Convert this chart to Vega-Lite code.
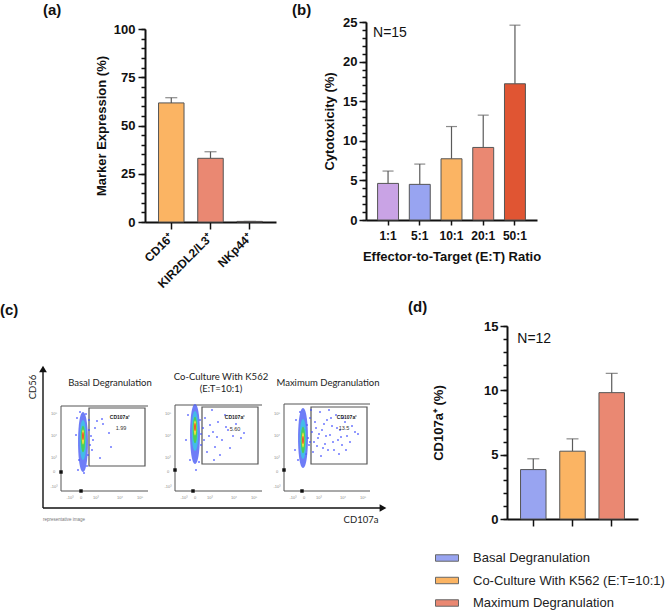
{
  "$schema": "https://vega.github.io/schema/vega-lite/v6.json",
  "padding": {"left": 0, "top": 3, "right": 0, "bottom": 0},
  "background": "white",
  "config": {
    "view": {"stroke": null},
    "font": "Liberation Sans",
    "title": {"fontSize": 15, "fontWeight": "bold", "anchor": "start", "frame": "group", "color": "#111", "font": "Liberation Sans"},
    "axis": {"grid": false, "labelFont": "Liberation Sans", "titleFont": "Liberation Sans", "labelFontSize": 13, "labelFontWeight": "bold", "titleFontSize": 13, "titleFontWeight": "bold", "labelColor": "#111", "titleColor": "#111", "domainColor": "#111", "domainWidth": 2, "tickColor": "#111", "tickWidth": 1.5}
  },
  "datasets": {
    "a": [
      {"marker": "CD16⁺", "mean": 61.7, "upper": 64.4},
      {"marker": "KIR2DL2/L3⁺", "mean": 33.0, "upper": 36.4},
      {"marker": "NKp44⁺", "mean": 0.3, "upper": 0.3}
    ],
    "b": [
      {"ratio": "1:1", "mean": 4.62, "upper": 6.18},
      {"ratio": "5:1", "mean": 4.5, "upper": 7.06},
      {"ratio": "10:1", "mean": 7.73, "upper": 11.8},
      {"ratio": "20:1", "mean": 9.16, "upper": 13.24},
      {"ratio": "50:1", "mean": 17.2, "upper": 24.6}
    ],
    "d": [
      {"condition": "Basal Degranulation", "mean": 3.84, "upper": 4.68},
      {"condition": "Co-Culture With K562 (E:T=10:1)", "mean": 5.27, "upper": 6.23},
      {"condition": "Maximum Degranulation", "mean": 9.82, "upper": 11.32}
    ],
    "c_arrows": [
      {"x": 43, "y": 22, "x2": 43, "y2": 160},
      {"x": 43, "y": 22, "x2": 381, "y2": 22}
    ],
    "c_heads": [
      {"x": 43, "y": 161, "dir": "up"},
      {"x": 383, "y": 22, "dir": "right"}
    ],
    "c_frames": [
      {"x": 61, "y": 124, "x2": 148, "y2": 124},
      {"x": 61, "y": 124, "x2": 61, "y2": 39},
      {"x": 61, "y": 39, "x2": 148, "y2": 39},
      {"x": 175, "y": 125, "x2": 262, "y2": 125},
      {"x": 175, "y": 125, "x2": 175, "y2": 39},
      {"x": 175, "y": 39, "x2": 262, "y2": 39},
      {"x": 284, "y": 126, "x2": 370, "y2": 126},
      {"x": 284, "y": 126, "x2": 284, "y2": 39},
      {"x": 284, "y": 39, "x2": 370, "y2": 39}
    ],
    "c_gates": [
      {"x": 89, "x2": 145, "y": 64, "y2": 122},
      {"x": 202, "x2": 258, "y": 66, "y2": 123},
      {"x": 311, "x2": 367, "y": 66, "y2": 123}
    ],
    "c_clouds": [
      {"plot": 1, "level": "low", "x": 83, "y": 88},
      {"plot": 1, "level": "lowmid", "x": 83, "y": 90},
      {"plot": 1, "level": "mid", "x": 83, "y": 91},
      {"plot": 1, "level": "high", "x": 83, "y": 93},
      {"plot": 1, "level": "peak", "x": 83, "y": 94},
      {"plot": 2, "level": "low", "x": 195, "y": 96},
      {"plot": 2, "level": "lowmid", "x": 195, "y": 99},
      {"plot": 2, "level": "mid", "x": 195, "y": 100},
      {"plot": 2, "level": "high", "x": 195, "y": 102},
      {"plot": 2, "level": "peak", "x": 195, "y": 103},
      {"plot": 3, "level": "low", "x": 303, "y": 92},
      {"plot": 3, "level": "lowmid", "x": 303, "y": 91},
      {"plot": 3, "level": "mid", "x": 303, "y": 90},
      {"plot": 3, "level": "high", "x": 303, "y": 90},
      {"plot": 3, "level": "peak", "x": 303, "y": 90}
    ],
    "c_events": [
      {"plot": 1, "x": 97, "y": 109}, {"plot": 1, "x": 102, "y": 111}, {"plot": 1, "x": 103, "y": 106}, {"plot": 1, "x": 109, "y": 97},
      {"plot": 1, "x": 111, "y": 83}, {"plot": 1, "x": 100, "y": 72}, {"plot": 1, "x": 93, "y": 90}, {"plot": 1, "x": 89, "y": 100},
      {"plot": 1, "x": 90, "y": 85}, {"plot": 1, "x": 88, "y": 75}, {"plot": 1, "x": 77, "y": 112}, {"plot": 1, "x": 78, "y": 60},
      {"plot": 1, "x": 86, "y": 116}, {"plot": 1, "x": 91, "y": 94}, {"plot": 1, "x": 95, "y": 102}, {"plot": 1, "x": 92, "y": 80},
      {"plot": 1, "x": 84, "y": 57}, {"plot": 1, "x": 80, "y": 118}, {"plot": 1, "x": 76, "y": 95}, {"plot": 1, "x": 89, "y": 110},
      {"plot": 1, "x": 79, "y": 70}, {"plot": 1, "x": 87, "y": 64},
      {"plot": 2, "x": 205, "y": 112}, {"plot": 2, "x": 210, "y": 105}, {"plot": 2, "x": 213, "y": 98}, {"plot": 2, "x": 218, "y": 108},
      {"plot": 2, "x": 222, "y": 90}, {"plot": 2, "x": 228, "y": 100}, {"plot": 2, "x": 233, "y": 94}, {"plot": 2, "x": 236, "y": 106},
      {"plot": 2, "x": 215, "y": 83}, {"plot": 2, "x": 207, "y": 78}, {"plot": 2, "x": 220, "y": 75}, {"plot": 2, "x": 241, "y": 92},
      {"plot": 2, "x": 212, "y": 120}, {"plot": 2, "x": 204, "y": 90}, {"plot": 2, "x": 199, "y": 68}, {"plot": 2, "x": 196, "y": 60},
      {"plot": 2, "x": 225, "y": 115}, {"plot": 2, "x": 209, "y": 94}, {"plot": 2, "x": 203, "y": 102}, {"plot": 2, "x": 217, "y": 93},
      {"plot": 2, "x": 230, "y": 82}, {"plot": 2, "x": 201, "y": 85}, {"plot": 2, "x": 244, "y": 97}, {"plot": 2, "x": 214, "y": 70},
      {"plot": 2, "x": 226, "y": 103}, {"plot": 2, "x": 188, "y": 115}, {"plot": 2, "x": 200, "y": 110}, {"plot": 2, "x": 190, "y": 70},
      {"plot": 2, "x": 201, "y": 96}, {"plot": 2, "x": 186, "y": 90},
      {"plot": 3, "x": 307, "y": 105}, {"plot": 3, "x": 310, "y": 112}, {"plot": 3, "x": 312, "y": 98}, {"plot": 3, "x": 315, "y": 108},
      {"plot": 3, "x": 318, "y": 92}, {"plot": 3, "x": 320, "y": 118}, {"plot": 3, "x": 322, "y": 100}, {"plot": 3, "x": 325, "y": 86},
      {"plot": 3, "x": 327, "y": 110}, {"plot": 3, "x": 330, "y": 95}, {"plot": 3, "x": 332, "y": 104}, {"plot": 3, "x": 334, "y": 80},
      {"plot": 3, "x": 336, "y": 115}, {"plot": 3, "x": 338, "y": 90}, {"plot": 3, "x": 340, "y": 100}, {"plot": 3, "x": 342, "y": 85},
      {"plot": 3, "x": 345, "y": 108}, {"plot": 3, "x": 347, "y": 94}, {"plot": 3, "x": 350, "y": 88}, {"plot": 3, "x": 355, "y": 98},
      {"plot": 3, "x": 309, "y": 85}, {"plot": 3, "x": 313, "y": 78}, {"plot": 3, "x": 317, "y": 84}, {"plot": 3, "x": 321, "y": 74},
      {"plot": 3, "x": 326, "y": 94}, {"plot": 3, "x": 329, "y": 120}, {"plot": 3, "x": 333, "y": 88}, {"plot": 3, "x": 339, "y": 76},
      {"plot": 3, "x": 343, "y": 112}, {"plot": 3, "x": 308, "y": 92}, {"plot": 3, "x": 311, "y": 120}, {"plot": 3, "x": 316, "y": 102},
      {"plot": 3, "x": 324, "y": 106}, {"plot": 3, "x": 337, "y": 102}, {"plot": 3, "x": 346, "y": 80}, {"plot": 3, "x": 352, "y": 104},
      {"plot": 3, "x": 305, "y": 100}, {"plot": 3, "x": 306, "y": 76}, {"plot": 3, "x": 319, "y": 96}, {"plot": 3, "x": 328, "y": 80},
      {"plot": 3, "x": 331, "y": 112}, {"plot": 3, "x": 341, "y": 93}, {"plot": 3, "x": 358, "y": 96}, {"plot": 3, "x": 314, "y": 88},
      {"plot": 3, "x": 323, "y": 82}, {"plot": 3, "x": 296, "y": 110}, {"plot": 3, "x": 300, "y": 118}, {"plot": 3, "x": 295, "y": 80},
      {"plot": 3, "x": 298, "y": 70}, {"plot": 3, "x": 310, "y": 88}
    ],
    "c_pileups": [
      {"x": 61, "y": 58}, {"x": 81, "y": 39}, {"x": 175, "y": 60}, {"x": 193, "y": 39}, {"x": 284, "y": 60}, {"x": 302, "y": 39}
    ],
    "c_text": [
      {"role": "title", "label": "Basal Degranulation", "x": 110, "y": 147},
      {"role": "title", "label": "Co-Culture With K562", "x": 221, "y": 153},
      {"role": "title", "label": "(E:T=10:1)", "x": 221, "y": 141},
      {"role": "title", "label": "Maximum Degranulation", "x": 328, "y": 147},
      {"role": "gate", "label": "CD107a⁺", "x": 120, "y": 113},
      {"role": "gate", "label": "CD107a⁺", "x": 235, "y": 113},
      {"role": "gate", "label": "CD107a⁺", "x": 347, "y": 113},
      {"role": "value", "label": "1.99", "x": 121, "y": 102},
      {"role": "value", "label": "5.60", "x": 235, "y": 101},
      {"role": "value", "label": "13.5", "x": 344, "y": 102},
      {"role": "axis", "label": "CD107a", "x": 361, "y": 10},
      {"role": "axisv", "label": "CD56", "x": 33, "y": 143},
      {"role": "note", "label": "representative image", "x": 43, "y": 10},
      {"role": "tick", "label": "-10³", "x": 70, "y": 32}, {"role": "tick", "label": "0", "x": 81, "y": 32},
      {"role": "tick", "label": "10³", "x": 96, "y": 32}, {"role": "tick", "label": "10⁴", "x": 120, "y": 32},
      {"role": "tick", "label": "10⁵", "x": 140, "y": 32},
      {"role": "tick", "label": "-10³", "x": 184, "y": 32}, {"role": "tick", "label": "0", "x": 195, "y": 32},
      {"role": "tick", "label": "10³", "x": 210, "y": 32}, {"role": "tick", "label": "10⁴", "x": 234, "y": 32},
      {"role": "tick", "label": "10⁵", "x": 254, "y": 32},
      {"role": "tick", "label": "-10³", "x": 293, "y": 32}, {"role": "tick", "label": "0", "x": 304, "y": 32},
      {"role": "tick", "label": "10³", "x": 319, "y": 32}, {"role": "tick", "label": "10⁴", "x": 343, "y": 32},
      {"role": "tick", "label": "10⁵", "x": 363, "y": 32},
      {"role": "tick", "label": "10⁵", "x": 54, "y": 116}, {"role": "tick", "label": "10⁴", "x": 54, "y": 94},
      {"role": "tick", "label": "10³", "x": 54, "y": 72}, {"role": "tick", "label": "0", "x": 54, "y": 58},
      {"role": "tick", "label": "-10³", "x": 54, "y": 43},
      {"role": "tick", "label": "10⁵", "x": 168, "y": 116}, {"role": "tick", "label": "10⁴", "x": 168, "y": 94},
      {"role": "tick", "label": "10³", "x": 168, "y": 72}, {"role": "tick", "label": "0", "x": 168, "y": 58},
      {"role": "tick", "label": "-10³", "x": 168, "y": 43},
      {"role": "tick", "label": "10⁵", "x": 277, "y": 116}, {"role": "tick", "label": "10⁴", "x": 277, "y": 94},
      {"role": "tick", "label": "10³", "x": 277, "y": 72}, {"role": "tick", "label": "0", "x": 277, "y": 58},
      {"role": "tick", "label": "-10³", "x": 277, "y": 43}
    ]
  },
  "spacing": 10,
  "resolve": {"scale": {"color": "independent", "size": "independent", "shape": "independent"}},
  "vconcat": [
    {
      "spacing": 16,
      "resolve": {"scale": {"color": "independent", "size": "independent", "shape": "independent"}},
      "hconcat": [
        {
          "width": 131, "height": 200,
          "title": {"text": "(a)", "dx": -102, "offset": 4},
          "data": {"name": "a"},
          "resolve": {"axis": {"y": "independent"}},
          "layer": [
            {
              "mark": {"type": "rule", "color": "#5a5a5a", "strokeWidth": 1.2},
              "encoding": {
                "x": {"field": "marker", "type": "nominal", "sort": null, "scale": {"paddingInner": 0.35, "paddingOuter": 0.345}, "axis": {"title": null, "labelAngle": -45, "labelAlign": "right", "labelBaseline": "middle", "labelFontSize": 12, "tickSize": 7, "labelPadding": 6}},
                "y": {"field": "mean", "type": "quantitative", "scale": {"domain": [0, 100], "range": [200, 7]}, "axis": null},
                "y2": {"field": "upper"}
              }
            },
            {
              "mark": {"type": "tick", "color": "#5a5a5a", "thickness": 1.2, "size": 12},
              "encoding": {
                "x": {"field": "marker", "type": "nominal", "sort": null, "scale": {"paddingInner": 0.35, "paddingOuter": 0.345}, "axis": {"title": null, "labelAngle": -45, "labelAlign": "right", "labelBaseline": "middle", "labelFontSize": 12, "tickSize": 7, "labelPadding": 6}},
                "y": {"field": "upper", "type": "quantitative", "scale": {"domain": [0, 100], "range": [200, 7]}, "axis": {"orient": "left", "values": [0,5,10,15,20,25,30,35,40,45,50,55,60,65,70,75,80,85,90,95,100], "labels": false, "domain": false, "tickSize": 4, "title": null}}
              }
            },
            {
              "mark": {"type": "bar", "stroke": "#555", "strokeWidth": 1},
              "encoding": {
                "x": {"field": "marker", "type": "nominal", "sort": null, "scale": {"paddingInner": 0.35, "paddingOuter": 0.345}, "axis": {"title": null, "labelAngle": -45, "labelAlign": "right", "labelBaseline": "middle", "labelFontSize": 12, "tickSize": 7, "labelPadding": 6}},
                "y": {"field": "mean", "type": "quantitative", "scale": {"domain": [0, 100], "range": [200, 7]}, "axis": {"orient": "left", "values": [0, 25, 50, 75, 100], "tickSize": 7, "labelPadding": 3, "title": "Marker Expression (%)", "titlePadding": 5}},
                "color": {"field": "marker", "type": "nominal", "sort": null, "scale": {"domain": ["CD16⁺", "KIR2DL2/L3⁺", "NKp44⁺"], "range": ["#FBB463", "#EA8872", "#E05533"]}, "legend": null}
              }
            }
          ]
        },
        {
          "width": 171, "height": 198,
          "title": {"text": "(b)", "dx": -74, "offset": -2},
          "data": {"name": "b"},
          "resolve": {"axis": {"y": "independent"}},
          "layer": [
            {
              "mark": {"type": "rule", "color": "#5a5a5a", "strokeWidth": 1.2},
              "encoding": {
                "x": {"field": "ratio", "type": "nominal", "sort": null, "scale": {"paddingInner": 0.34, "paddingOuter": 0.365}, "axis": {"title": "Effector-to-Target (E:T) Ratio", "labelAngle": 0, "labelFontSize": 12, "tickSize": 5, "labelPadding": 5, "titlePadding": 9}},
                "y": {"field": "mean", "type": "quantitative", "scale": {"domain": [0, 25]}, "axis": null},
                "y2": {"field": "upper"}
              }
            },
            {
              "mark": {"type": "tick", "color": "#5a5a5a", "thickness": 1.2, "size": 11},
              "encoding": {
                "x": {"field": "ratio", "type": "nominal", "sort": null, "scale": {"paddingInner": 0.34, "paddingOuter": 0.365}, "axis": {"title": "Effector-to-Target (E:T) Ratio", "labelAngle": 0, "labelFontSize": 12, "tickSize": 5, "labelPadding": 5, "titlePadding": 9}},
                "y": {"field": "upper", "type": "quantitative", "scale": {"domain": [0, 25]}, "axis": {"orient": "left", "values": [0,1,2,3,4,5,6,7,8,9,10,11,12,13,14,15,16,17,18,19,20,21,22,23,24,25], "labels": false, "domain": false, "tickSize": 4, "title": null}}
              }
            },
            {
              "mark": {"type": "bar", "stroke": "#555", "strokeWidth": 1},
              "encoding": {
                "x": {"field": "ratio", "type": "nominal", "sort": null, "scale": {"paddingInner": 0.34, "paddingOuter": 0.365}, "axis": {"title": "Effector-to-Target (E:T) Ratio", "labelAngle": 0, "labelFontSize": 12, "tickSize": 5, "labelPadding": 5, "titlePadding": 9}},
                "y": {"field": "mean", "type": "quantitative", "scale": {"domain": [0, 25]}, "axis": {"orient": "left", "values": [0, 5, 10, 15, 20, 25], "tickSize": 7, "labelPadding": 2, "title": "Cytotoxicity (%)", "titlePadding": 6}},
                "color": {"field": "ratio", "type": "nominal", "sort": null, "scale": {"domain": ["1:1", "5:1", "10:1", "20:1", "50:1"], "range": ["#C9A3E5", "#98A4F1", "#FBB463", "#EA8872", "#E05533"]}, "legend": null}
              }
            },
            {
              "data": {"values": [{"label": "N=15"}]},
              "mark": {"type": "text", "align": "left", "baseline": "middle", "dx": -15, "fontSize": 14, "font": "Liberation Sans", "color": "#111"},
              "encoding": {
                "x": {"datum": "1:1", "type": "nominal", "scale": {"paddingInner": 0.34, "paddingOuter": 0.365}, "axis": {"title": "Effector-to-Target (E:T) Ratio", "labelAngle": 0, "labelFontSize": 12, "tickSize": 5, "labelPadding": 5, "titlePadding": 9}},
                "y": {"datum": 23.6, "type": "quantitative", "scale": {"domain": [0, 25]}, "axis": null},
                "text": {"field": "label"}
              }
            }
          ]
        }
      ]
    },
    {
      "spacing": 18,
      "resolve": {"scale": {"color": "independent", "size": "independent", "shape": "independent"}},
      "hconcat": [
        {
          "width": 245, "height": 204,
          "title": {"text": "(c)", "dx": -145, "offset": 8},
          "layer": [
            {
              "data": {"name": "c_frames"},
              "mark": {"type": "rule", "color": "#555", "strokeWidth": 1},
              "encoding": {
                "x": {"field": "x", "type": "quantitative", "scale": {"domain": [145, 390], "nice": false, "zero": false}, "axis": null},
                "y": {"field": "y", "type": "quantitative", "scale": {"domain": [0, 204], "nice": false}, "axis": null},
                "x2": {"field": "x2"}, "y2": {"field": "y2"}
              }
            },
            {
              "data": {"name": "c_gates"},
              "mark": {"type": "rect", "filled": false, "color": "#555", "strokeWidth": 1.2},
              "encoding": {
                "x": {"field": "x", "type": "quantitative", "scale": {"domain": [145, 390], "nice": false, "zero": false}, "axis": null},
                "y": {"field": "y", "type": "quantitative", "scale": {"domain": [0, 204], "nice": false}, "axis": null},
                "x2": {"field": "x2"}, "y2": {"field": "y2"}
              }
            },
            {
              "data": {"name": "c_events"},
              "mark": {"type": "square", "size": 3, "color": "#3848ff", "opacity": 0.85},
              "encoding": {
                "x": {"field": "x", "type": "quantitative", "scale": {"domain": [145, 390], "nice": false, "zero": false}, "axis": null},
                "y": {"field": "y", "type": "quantitative", "scale": {"domain": [0, 204], "nice": false}, "axis": null}
              }
            },
            {
              "data": {"name": "c_clouds"},
              "transform": [{"filter": "datum.level === 'low'"}],
              "mark": {"type": "point", "filled": true, "opacity": 0.8, "strokeWidth": 0, "size": 3600, "color": "#4a5cf5", "shape": "M0,-1C0.22,-1 0.22,1 0,1C-0.22,1 -0.22,-1 0,-1Z"},
              "encoding": {
                "x": {"field": "x", "type": "quantitative", "scale": {"domain": [145, 390], "nice": false, "zero": false}, "axis": null},
                "y": {"field": "y", "type": "quantitative", "scale": {"domain": [0, 204], "nice": false}, "axis": null}
              }
            },
            {
              "data": {"name": "c_clouds"},
              "transform": [{"filter": "datum.level === 'lowmid'"}],
              "mark": {"type": "point", "filled": true, "opacity": 0.85, "strokeWidth": 0, "size": 1600, "color": "#3cc6e6", "shape": "M0,-1C0.22,-1 0.22,1 0,1C-0.22,1 -0.22,-1 0,-1Z"},
              "encoding": {
                "x": {"field": "x", "type": "quantitative", "scale": {"domain": [145, 390], "nice": false, "zero": false}, "axis": null},
                "y": {"field": "y", "type": "quantitative", "scale": {"domain": [0, 204], "nice": false}, "axis": null}
              }
            },
            {
              "data": {"name": "c_clouds"},
              "transform": [{"filter": "datum.level === 'mid'"}],
              "mark": {"type": "point", "filled": true, "opacity": 0.9, "strokeWidth": 0, "size": 700, "color": "#4cd24c", "shape": "M0,-1C0.22,-1 0.22,1 0,1C-0.22,1 -0.22,-1 0,-1Z"},
              "encoding": {
                "x": {"field": "x", "type": "quantitative", "scale": {"domain": [145, 390], "nice": false, "zero": false}, "axis": null},
                "y": {"field": "y", "type": "quantitative", "scale": {"domain": [0, 204], "nice": false}, "axis": null}
              }
            },
            {
              "data": {"name": "c_clouds"},
              "transform": [{"filter": "datum.level === 'high'"}],
              "mark": {"type": "point", "filled": true, "opacity": 0.95, "strokeWidth": 0, "size": 225, "color": "#f2e03a", "shape": "M0,-1C0.22,-1 0.22,1 0,1C-0.22,1 -0.22,-1 0,-1Z"},
              "encoding": {
                "x": {"field": "x", "type": "quantitative", "scale": {"domain": [145, 390], "nice": false, "zero": false}, "axis": null},
                "y": {"field": "y", "type": "quantitative", "scale": {"domain": [0, 204], "nice": false}, "axis": null}
              }
            },
            {
              "data": {"name": "c_clouds"},
              "transform": [{"filter": "datum.level === 'peak'"}],
              "mark": {"type": "point", "filled": true, "opacity": 1, "strokeWidth": 0, "size": 64, "color": "#e8502a", "shape": "M0,-1C0.3,-1 0.3,1 0,1C-0.3,1 -0.3,-1 0,-1Z"},
              "encoding": {
                "x": {"field": "x", "type": "quantitative", "scale": {"domain": [145, 390], "nice": false, "zero": false}, "axis": null},
                "y": {"field": "y", "type": "quantitative", "scale": {"domain": [0, 204], "nice": false}, "axis": null}
              }
            },
            {
              "data": {"name": "c_pileups"},
              "mark": {"type": "square", "size": 12, "color": "#111", "opacity": 1},
              "encoding": {
                "x": {"field": "x", "type": "quantitative", "scale": {"domain": [145, 390], "nice": false, "zero": false}, "axis": null},
                "y": {"field": "y", "type": "quantitative", "scale": {"domain": [0, 204], "nice": false}, "axis": null}
              }
            },
            {
              "data": {"name": "c_arrows"},
              "mark": {"type": "rule", "color": "#111", "strokeWidth": 1.4},
              "encoding": {
                "x": {"field": "x", "type": "quantitative", "scale": {"domain": [145, 390], "nice": false, "zero": false}, "axis": null},
                "y": {"field": "y", "type": "quantitative", "scale": {"domain": [0, 204], "nice": false}, "axis": null},
                "x2": {"field": "x2"}, "y2": {"field": "y2"}
              }
            },
            {
              "data": {"name": "c_heads"},
              "mark": {"type": "point", "filled": true, "size": 60, "color": "#111", "opacity": 1},
              "encoding": {
                "x": {"field": "x", "type": "quantitative", "scale": {"domain": [145, 390], "nice": false, "zero": false}, "axis": null},
                "y": {"field": "y", "type": "quantitative", "scale": {"domain": [0, 204], "nice": false}, "axis": null},
                "shape": {"field": "dir", "type": "nominal", "scale": {"domain": ["up", "right"], "range": ["triangle-up", "triangle-right"]}, "legend": null}
              }
            },
            {
              "data": {"name": "c_text"},
              "transform": [{"filter": "datum.role === 'title' || datum.role === 'axis'"}],
              "mark": {"type": "text", "font": "Lato", "fontSize": 9.5, "color": "#222", "baseline": "middle"},
              "encoding": {
                "x": {"field": "x", "type": "quantitative", "scale": {"domain": [145, 390], "nice": false, "zero": false}, "axis": null},
                "y": {"field": "y", "type": "quantitative", "scale": {"domain": [0, 204], "nice": false}, "axis": null},
                "text": {"field": "label"}
              }
            },
            {
              "data": {"name": "c_text"},
              "transform": [{"filter": "datum.role === 'axisv'"}],
              "mark": {"type": "text", "font": "Lato", "fontSize": 9.5, "color": "#222", "baseline": "middle", "angle": 270},
              "encoding": {
                "x": {"field": "x", "type": "quantitative", "scale": {"domain": [145, 390], "nice": false, "zero": false}, "axis": null},
                "y": {"field": "y", "type": "quantitative", "scale": {"domain": [0, 204], "nice": false}, "axis": null},
                "text": {"field": "label"}
              }
            },
            {
              "data": {"name": "c_text"},
              "transform": [{"filter": "datum.role === 'gate'"}],
              "mark": {"type": "text", "font": "Liberation Sans", "fontSize": 5, "fontWeight": "bold", "color": "#222", "baseline": "middle"},
              "encoding": {
                "x": {"field": "x", "type": "quantitative", "scale": {"domain": [145, 390], "nice": false, "zero": false}, "axis": null},
                "y": {"field": "y", "type": "quantitative", "scale": {"domain": [0, 204], "nice": false}, "axis": null},
                "text": {"field": "label"}
              }
            },
            {
              "data": {"name": "c_text"},
              "transform": [{"filter": "datum.role === 'value'"}],
              "mark": {"type": "text", "font": "Liberation Sans", "fontSize": 5.5, "color": "#333", "baseline": "middle"},
              "encoding": {
                "x": {"field": "x", "type": "quantitative", "scale": {"domain": [145, 390], "nice": false, "zero": false}, "axis": null},
                "y": {"field": "y", "type": "quantitative", "scale": {"domain": [0, 204], "nice": false}, "axis": null},
                "text": {"field": "label"}
              }
            },
            {
              "data": {"name": "c_text"},
              "transform": [{"filter": "datum.role === 'tick'"}],
              "mark": {"type": "text", "font": "Liberation Sans", "fontSize": 4, "color": "#888", "baseline": "middle"},
              "encoding": {
                "x": {"field": "x", "type": "quantitative", "scale": {"domain": [145, 390], "nice": false, "zero": false}, "axis": null},
                "y": {"field": "y", "type": "quantitative", "scale": {"domain": [0, 204], "nice": false}, "axis": null},
                "text": {"field": "label"}
              }
            },
            {
              "data": {"name": "c_text"},
              "transform": [{"filter": "datum.role === 'note'"}],
              "mark": {"type": "text", "font": "Liberation Sans", "fontSize": 4.5, "color": "#777", "baseline": "middle", "align": "left"},
              "encoding": {
                "x": {"field": "x", "type": "quantitative", "scale": {"domain": [145, 390], "nice": false, "zero": false}, "axis": null},
                "y": {"field": "y", "type": "quantitative", "scale": {"domain": [0, 204], "nice": false}, "axis": null},
                "text": {"field": "label"}
              }
            }
          ]
        },
        {
          "width": 131, "height": 193,
          "title": {"text": "(d)", "dx": -99, "offset": 5},
          "data": {"name": "d"},
          "resolve": {"axis": {"y": "independent"}},
          "layer": [
            {
              "mark": {"type": "rule", "color": "#5a5a5a", "strokeWidth": 1.2},
              "encoding": {
                "x": {"field": "condition", "type": "nominal", "sort": null, "scale": {"paddingInner": 0.35, "paddingOuter": 0.345}, "axis": {"title": null, "labels": false, "tickSize": 7}},
                "y": {"field": "mean", "type": "quantitative", "scale": {"domain": [0, 15]}, "axis": null},
                "y2": {"field": "upper"}
              }
            },
            {
              "mark": {"type": "tick", "color": "#5a5a5a", "thickness": 1.2, "size": 12},
              "encoding": {
                "x": {"field": "condition", "type": "nominal", "sort": null, "scale": {"paddingInner": 0.35, "paddingOuter": 0.345}, "axis": {"title": null, "labels": false, "tickSize": 7}},
                "y": {"field": "upper", "type": "quantitative", "scale": {"domain": [0, 15]}, "axis": {"orient": "left", "values": [0,1,2,3,4,5,6,7,8,9,10,11,12,13,14,15], "labels": false, "domain": false, "tickSize": 4, "title": null}}
              }
            },
            {
              "mark": {"type": "bar", "stroke": "#555", "strokeWidth": 1},
              "encoding": {
                "x": {"field": "condition", "type": "nominal", "sort": null, "scale": {"paddingInner": 0.35, "paddingOuter": 0.345}, "axis": {"title": null, "labels": false, "tickSize": 7}},
                "y": {"field": "mean", "type": "quantitative", "scale": {"domain": [0, 15]}, "axis": {"orient": "left", "values": [0, 5, 10, 15], "tickSize": 7, "labelPadding": 2, "title": "CD107a⁺ (%)", "titlePadding": 38}},
                "color": {"field": "condition", "type": "nominal", "sort": null, "scale": {"domain": ["Basal Degranulation", "Co-Culture With K562 (E:T=10:1)", "Maximum Degranulation"], "range": ["#98A4F1", "#FBB463", "#EA8872"]}, "legend": {"orient": "none", "legendX": -72, "legendY": 220, "title": null, "padding": 0, "symbolType": "M-1,-0.28H1V0.28H-1Z", "symbolSize": 529, "symbolStrokeColor": "#666", "symbolStrokeWidth": 1, "symbolOpacity": 1, "labelFont": "Liberation Sans", "labelFontSize": 13, "labelFontWeight": "normal", "labelColor": "#222", "rowPadding": 3.5, "labelOffset": 14, "labelLimit": 300}}
              }
            },
            {
              "data": {"values": [{"label": "N=12"}]},
              "mark": {"type": "text", "align": "left", "baseline": "middle", "dx": -16, "fontSize": 14, "font": "Liberation Sans", "color": "#111"},
              "encoding": {
                "x": {"datum": "Basal Degranulation", "type": "nominal", "scale": {"paddingInner": 0.35, "paddingOuter": 0.345}, "axis": {"title": null, "labels": false, "tickSize": 7}},
                "y": {"datum": 14.0, "type": "quantitative", "scale": {"domain": [0, 15]}, "axis": null},
                "text": {"field": "label"}
              }
            }
          ]
        }
      ]
    }
  ]
}
